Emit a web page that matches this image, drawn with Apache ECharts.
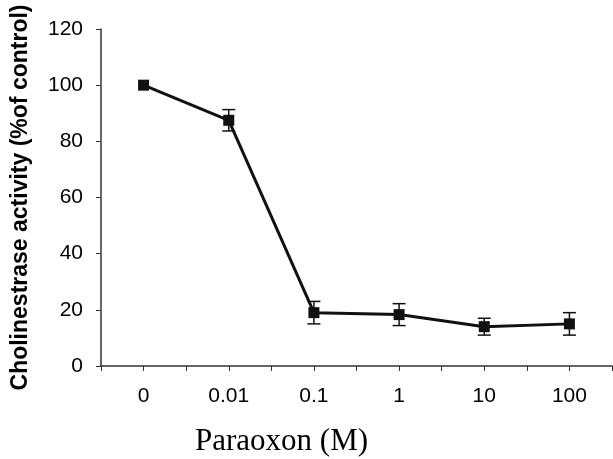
<!DOCTYPE html>
<html>
<head>
<meta charset="utf-8">
<script src="https://cdn.jsdelivr.net/npm/echarts@6/dist/echarts.min.js"></script>
<style>
	html, body { margin: 0; padding: 0; background: #fff; }
	#chart { width: 613px; height: 459px; }
</style>
</head>
<body>
<div id="chart"></div>
<script>
const categories = ['0', '0.01', '0.1', '1', '10', '100']
const activity = [100, 87.5, 19, 18.3, 14, 15]
const errors = [0, 3.8, 4, 3.9, 3, 4]
const yTicks = [0, 20, 40, 60, 80, 100, 120]

const node = document.getElementById('chart')
const myChart = echarts.init(node)

const points = activity.map((v, i) => [i, v])
const bars = activity.map((v, i) => [i, v - errors[i], v + errors[i]])

const option = {
	animation: false,
	title: {
		text: 'Paraoxon (M)',
		left: 190,
		top: 421,
		textStyle: {
			fontFamily: 'Liberation Serif',
			fontWeight: 'normal',
			fontSize: 31,
			color: '#000'
		}
	},
	grid: {
		left: 101,
		right: 1,
		top: 29,
		bottom: 93,
		containLabel: false,
		outerBoundsMode: 'none'
	},
	xAxis: {
		type: 'value',
		min: -0.5,
		max: 5.5,
		interval: 0.5,
		splitLine: { show: false },
		axisLine: { onZero: false, lineStyle: { color: '#333', width: 1.5 } },
		axisTick: { length: 5, lineStyle: { color: '#333' } },
		axisLabel: {
			margin: 20,
			fontFamily: 'Liberation Sans',
			fontSize: 21,
			color: '#000',
			showMinLabel: true,
			showMaxLabel: true,
			formatter: v => Number.isInteger(v) ? categories[v] : ''
		}
	},
	yAxis: {
		type: 'value',
		min: yTicks[0],
		max: yTicks[yTicks.length - 1],
		interval: 20,
		name: 'Cholinestrase activity (%of control)',
		nameLocation: 'middle',
		nameGap: 69,
		nameTextStyle: {
			fontFamily: 'Liberation Sans',
			fontWeight: 'bold',
			fontSize: 23,
			color: '#000'
		},
		splitLine: { show: false },
		axisLine: { show: true, onZero: false, lineStyle: { color: '#333', width: 1.5 } },
		axisTick: { show: true, length: 5, lineStyle: { color: '#333' } },
		axisLabel: {
			margin: 18,
			fontFamily: 'Liberation Sans',
			fontSize: 21,
			color: '#000'
		}
	},
	series: [
		{
			type: 'custom',
			data: bars,
			z: 1,
			renderItem: (params, api) => {
				if (api.value(2) - api.value(1) <= 0) return
				const lo = api.coord([api.value(0), api.value(1)])
				const hi = api.coord([api.value(0), api.value(2)])
				const half = 6.5
				const style = { stroke: '#111', lineWidth: 1.5 }
				return {
					type: 'group',
					children: [
						{ type: 'line', shape: { x1: lo[0], y1: lo[1], x2: hi[0], y2: hi[1] }, style },
						{ type: 'line', shape: { x1: lo[0] - half, y1: lo[1], x2: lo[0] + half, y2: lo[1] }, style },
						{ type: 'line', shape: { x1: hi[0] - half, y1: hi[1], x2: hi[0] + half, y2: hi[1] }, style }
					]
				}
			}
		},
		{
			type: 'line',
			data: points,
			z: 2,
			symbol: 'rect',
			symbolSize: 11,
			lineStyle: { color: '#111', width: 3 },
			itemStyle: { color: '#111' }
		}
	]
}

myChart.setOption(option)

window.addEventListener('resize', () => {
	myChart.resize()
})
</script>
</body>
</html>
